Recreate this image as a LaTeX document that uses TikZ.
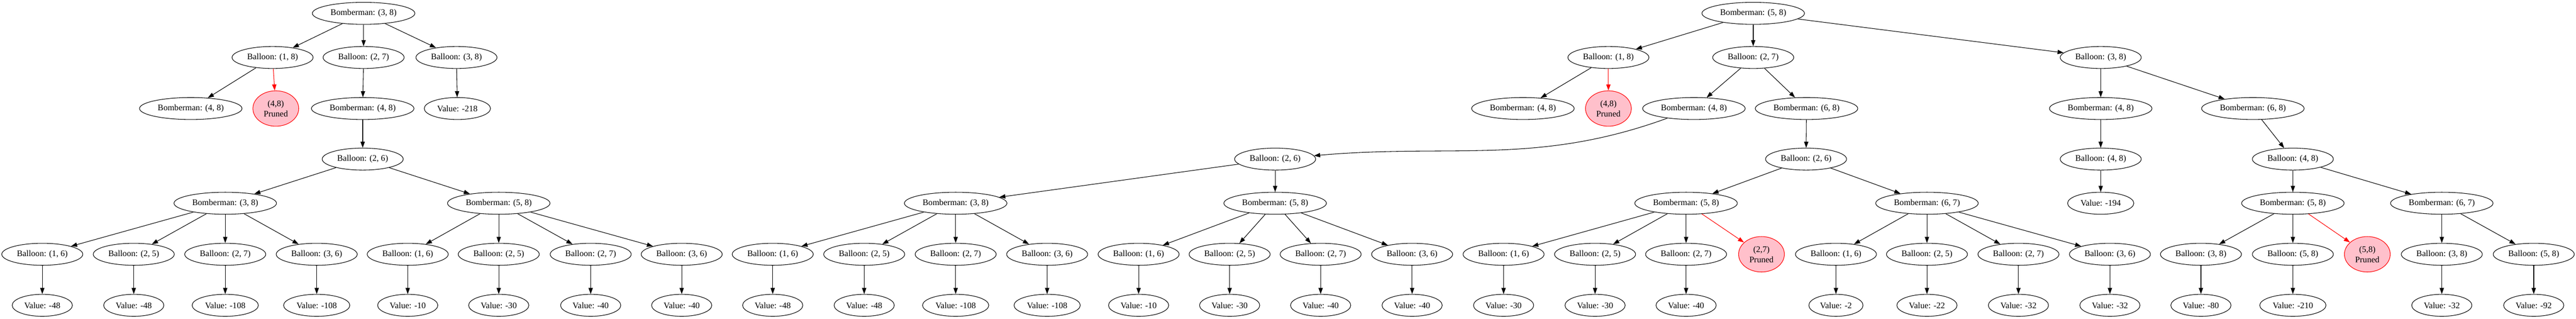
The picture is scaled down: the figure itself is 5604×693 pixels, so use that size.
\documentclass[tikz,border=0pt]{standalone}
\usepackage{fontspec}
\setmainfont{Liberation Serif}
\usetikzlibrary{arrows.meta,shapes.geometric}
\definecolor{prunedpink}{RGB}{255,192,203}

\begin{document}
\begin{tikzpicture}[x=0.7527pt, y=-0.7527pt,
  nd/.style={draw, ellipse, line width=0.9pt, inner xsep=5.3pt, inner ysep=1pt,
             minimum height=36pt, font=\fontsize{14pt}{16.8pt}\selectfont},
  prunednode/.style={nd, draw=red, fill=prunedpink, align=center,
             minimum width=75pt, minimum height=58pt, inner xsep=2pt},
  edge/.style={-{Triangle[length=10pt,width=7pt]}, line width=0.9pt},
  prunededge/.style={edge, red}]
  \useasboundingbox (0,0) rectangle (5604,693);

  % first tree
  \node[nd] (aroot) at (791,29) {Bomberman: (3, 8)};
  \node[nd] (a18) at (593,125) {Balloon: (1, 8)};
  \node[nd] (a27) at (791,125) {Balloon: (2, 7)};
  \node[nd] (a38) at (993,125) {Balloon: (3, 8)};
  \node[nd] (a18b) at (415,236) {Bomberman: (4, 8)};
  \node[prunednode] (a18p) at (600,236) {(4,8)\\Pruned};
  \node[nd] (a27b) at (789,236) {Bomberman: (4, 8)};
  \node[nd] (a38v) at (995,236) {Value: -218};
  \node[nd] (a26) at (789,346) {Balloon: (2, 6)};
  \node[nd] (a26l) at (490,442) {Bomberman: (3, 8)};
  \node[nd] (a26r) at (1085,442) {Bomberman: (5, 8)};
  \draw[edge] (aroot) -- (a18);
  \draw[edge] (aroot) -- (a27);
  \draw[edge] (aroot) -- (a38);
  \draw[edge] (a18) -- (a18b);
  \draw[prunededge] (a18) -- (a18p);
  \draw[edge] (a27) -- (a27b);
  \draw[edge] (a38) -- (a38v);
  \draw[edge] (a27b) -- (a26);
  \draw[edge] (a26) -- (a26l);
  \draw[edge] (a26) -- (a26r);

  % second tree
  \node[nd] (broot) at (3814,29) {Bomberman: (5, 8)};
  \node[nd] (b18) at (3499,125) {Balloon: (1, 8)};
  \node[nd] (b27) at (3814,125) {Balloon: (2, 7)};
  \node[nd] (b38) at (4570,125) {Balloon: (3, 8)};
  \node[nd] (b18b) at (3313,236) {Bomberman: (4, 8)};
  \node[prunednode] (b18p) at (3499,236) {(4,8)\\Pruned};
  \node[nd] (b27l) at (3685,236) {Bomberman: (4, 8)};
  \node[nd] (b27r) at (3930,236) {Bomberman: (6, 8)};
  \node[nd] (b38l) at (4570,236) {Bomberman: (4, 8)};
  \node[nd] (b38r) at (4901,236) {Bomberman: (6, 8)};
  \node[nd] (bl26) at (2774,346) {Balloon: (2, 6)};
  \node[nd] (br26) at (3929,346) {Balloon: (2, 6)};
  \node[nd] (b48a) at (4570,346) {Balloon: (4, 8)};
  \node[nd] (b48b) at (4988,346) {Balloon: (4, 8)};
  \node[nd] (bA) at (2079,442) {Bomberman: (3, 8)};
  \node[nd] (bB) at (2774,442) {Bomberman: (5, 8)};
  \node[nd] (bC) at (3668,442) {Bomberman: (5, 8)};
  \node[nd] (bD) at (4192,442) {Bomberman: (6, 7)};
  \node[nd] (b48v) at (4570,442) {Value: -194};
  \node[nd] (bE) at (4988,442) {Bomberman: (5, 8)};
  \node[nd] (bF) at (5312,442) {Bomberman: (6, 7)};
  \node[prunednode] (bCp) at (3832,553) {(2,7)\\Pruned};
  \node[prunednode] (bEp) at (5150,553) {(5,8)\\Pruned};
  \draw[edge] (broot) -- (b18);
  \draw[edge] (broot) -- (b27);
  \draw[edge] (broot) -- (b38);
  \draw[edge] (b18) -- (b18b);
  \draw[prunededge] (b18) -- (b18p);
  \draw[edge] (b27) -- (b27l);
  \draw[edge] (b27) -- (b27r);
  \draw[edge] (b38) -- (b38l);
  \draw[edge] (b38) -- (b38r);
  \draw[edge] (b27l) to[out=-160, in=5] (bl26);
  \draw[edge] (b27r) -- (br26);
  \draw[edge] (b38l) -- (b48a);
  \draw[edge] (b38r) -- (b48b);
  \draw[edge] (bl26) -- (bA);
  \draw[edge] (bl26) -- (bB);
  \draw[edge] (br26) -- (bC);
  \draw[edge] (br26) -- (bD);
  \draw[edge] (b48a) -- (b48v);
  \draw[edge] (b48b) -- (bE);
  \draw[edge] (b48b) -- (bF);
  \draw[prunededge] (bC) -- (bCp);
  \draw[prunededge] (bE) -- (bEp);

  % balloon leaves and their values
  \foreach \p/\x/\i/\j/\v [count=\k] in {
      a26l/92/1/6/-48, a26l/291/2/5/-48, a26l/490/2/7/-108, a26l/689/3/6/-108,
      a26r/887/1/6/-10, a26r/1085/2/5/-30, a26r/1285/2/7/-40, a26r/1483/3/6/-40,
      bA/1681/1/6/-48, bA/1880/2/5/-48, bA/2079/2/7/-108, bA/2278/3/6/-108,
      bB/2477/1/6/-10, bB/2675/2/5/-30, bB/2873/2/7/-40, bB/3072/3/6/-40,
      bC/3271/1/6/-30, bC/3470/2/5/-30, bC/3668/2/7/-40,
      bD/3994/1/6/-2, bD/4192/2/5/-22, bD/4391/2/7/-32, bD/4590/3/6/-32,
      bE/4788/3/8/-80, bE/4988/5/8/-210,
      bF/5312/3/8/-32, bF/5512/5/8/-92} {
    \node[nd] (leaf\k) at (\x,553) {Balloon: (\i, \j)};
    \node[nd] (val\k) at (\x,664) {Value: \v};
    \draw[edge] (\p) -- (leaf\k);
    \draw[edge] (leaf\k) -- (val\k);
  }
\end{tikzpicture}
\end{document}
